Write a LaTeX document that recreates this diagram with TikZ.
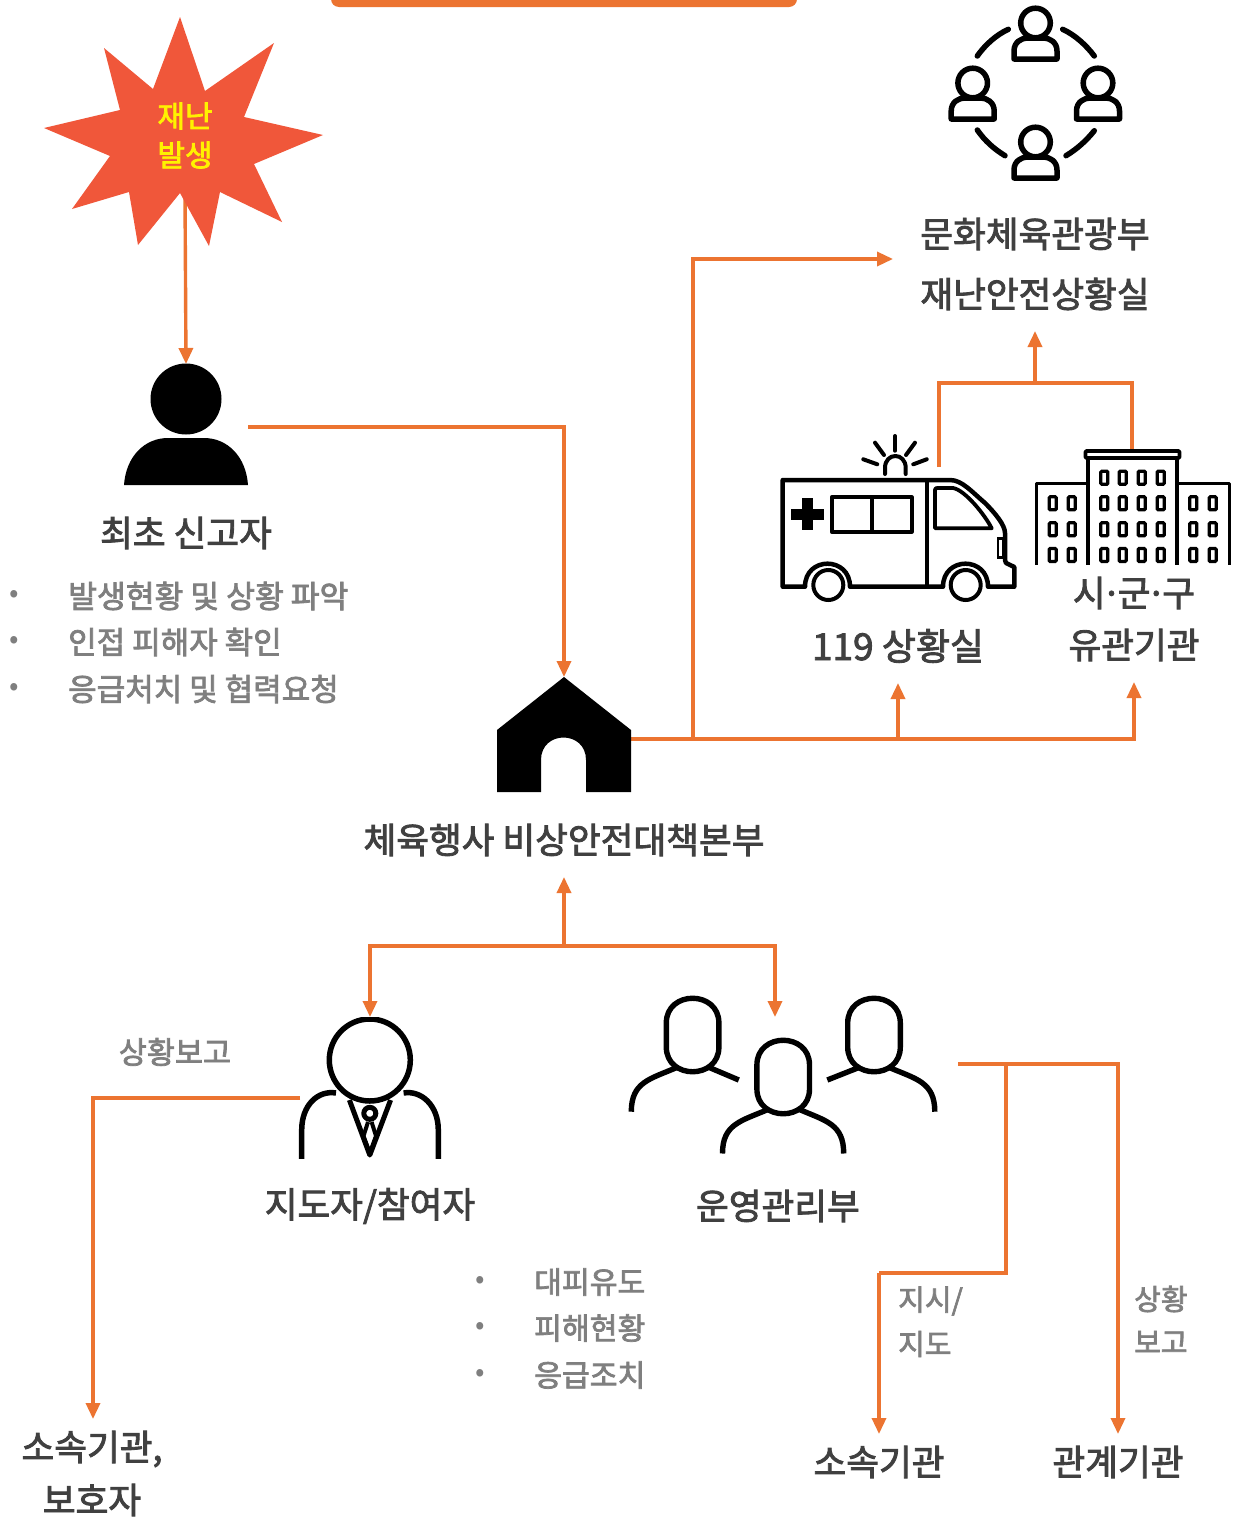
\documentclass[tikz,border=0pt]{standalone}
\usepackage{fontspec}
\setmainfont{Noto Sans CJK KR}
\newfontfamily\kr[FakeBold=2.4]{Noto Sans CJK KR}
\newfontfamily\krl{Noto Sans CJK KR}
\usetikzlibrary{arrows.meta}
\definecolor{acc}{HTML}{EC7431}
\definecolor{burst}{HTML}{F0573A}
\definecolor{headtxt}{HTML}{404040}
\definecolor{softtxt}{HTML}{7F7F7F}
\tikzset{
 wire/.style={draw=acc,line width=3.4pt},
 arw/.style={wire,-{Triangle[length=16pt,width=14pt]}},
 head/.style={text=headtxt,font=\kr\fontsize{35.6}{36}\selectfont,inner sep=0pt},
 soft/.style={text=softtxt,font=\kr\fontsize{30.5}{31}\selectfont,inner sep=0pt},
 softl/.style={soft,anchor=west},
 softs/.style={softl,font=\kr\fontsize{29}{30}\selectfont},
 dotb/.style={text=softtxt,font=\krl\fontsize{28}{28}\selectfont,inner sep=0pt},
 iconbox/.style={inner sep=0pt,outer sep=0pt,draw=none},
 ink/.style={draw=black,line width=5pt,line join=round,line cap=round,fill=none},
 inkb/.style={draw=black,line width=5pt,line join=round,fill=none},
 thin/.style={draw=black,line width=3.8pt,line join=round},
}
\begin{document}
\begin{tikzpicture}[x=1pt,y=-1pt]
\useasboundingbox (0,0) rectangle (1243,1518);
\fill[white] (0,0) rectangle (1243,1518);
% top bar
\fill[acc,rounded corners=8pt] (331,-20) rectangle (797,7);

% named anchors
\node[iconbox,minimum width=124pt,minimum height=126pt] (reporter) at (186,427) {};
\node[iconbox,minimum width=134pt,minimum height=124pt] (house) at (564,739) {};
\node[iconbox,minimum width=140pt,minimum height=162pt] (leader) at (370,1098) {};
\coordinate (burstOut) at (185,195);
\coordinate (ministryIn) at (893,259);
\coordinate (ministryIn2) at (1035,331);
\coordinate (amb) at (939,467);
\coordinate (city) at (1132,450);
\coordinate (ambIn) at (898,683);
\coordinate (cityIn) at (1134,682);
\coordinate (hqIn) at (564,877);
\coordinate (opsIn) at (775,1017);
\coordinate (opsOut) at (958,1064);
\coordinate (affil) at (93,1419);
\coordinate (sub) at (879,1434);
\coordinate (rel) at (1118,1434);
\coordinate (j1) at (693,739);
\coordinate (j2) at (898,739);
\coordinate (j3) at (1035,383);
\coordinate (j4) at (564,946);
\coordinate (j5) at (1006,1064);
\coordinate (j6) at (879,1273);

% connectors
\draw[arw] (burstOut) -- (reporter.north);
\draw[arw] (reporter.east) -| (house.north);
\draw[arw] (house.east) -| (cityIn);
\draw[arw] (j2) -- (ambIn);
\draw[arw] (j1) |- (ministryIn);
\draw[wire,line join=miter] (amb) |- (j3) -| (city);
\draw[arw] (j3) -- (ministryIn2);
\draw[arw] (j4) -- (hqIn);
\draw[arw] (j4) -| (leader.north);
\draw[arw] (j4) -| (opsIn);
\draw[arw] (leader.west) -| (affil);
\draw[arw] (opsOut) -| (rel);
\draw[wire] (j5) |- (j6);
\draw[arw] (j6) -- (sub);

% burst
\fill[burst] (180,17)--(205,91)--(274,43)--(244,117)--(323,135)--(254,164)--(282,222)--(220,192)--(209,246)--(180,193)--(138,245)--(129,192)--(72,209)--(110,156)--(44,128)--(120,110)--(104,48)--(153,89)--cycle;
\node[text=yellow,font=\kr\fontsize{30}{30}\selectfont,inner sep=0pt] (t1) at (185,116) {재난};
\node[text=yellow,font=\kr\fontsize{30}{30}\selectfont,inner sep=0pt] (t2) at (185,155) {발생};

% reporter icon
\fill (186,399) circle[radius=35.5];
\fill (124,485) .. controls (126,456) and (145,438) .. (168,438) -- (204,438) .. controls (227,438) and (246,456) .. (248,485) -- cycle;

% house icon
\fill[even odd rule] (497,730)--(564,677)--(631,730)--(631,792)--(586,792)--(586,760) .. controls (586,730) and (541,730) .. (541,760)--(541,792)--(497,792)--cycle;

% circle of people
\foreach \cx/\cy in {1035.5/23,972.7/83,1098/83,1035.5/142}{
 \begin{scope}[shift={(\cx,\cy)}]
  \draw[inkb,line width=5.5pt] (0,0) circle[radius=14.8];
  \draw[inkb,line width=5.5pt] (-21.5,36) -- (-21.5,28) .. controls (-21.5,19) and (-14,15) .. (-8,15) -- (8,15) .. controls (14,15) and (21.5,19) .. (21.5,28) -- (21.5,36) -- cycle;
 \end{scope}
}
\draw[ink,line width=5.5pt] (977.3,56) .. controls (985,45) and (996,35) .. (1008.3,29.3);
\draw[ink,line width=5.5pt] (1062.7,29.3) .. controls (1075,35) and (1086,45) .. (1094.3,56);
\draw[ink,line width=5.5pt] (977.3,130) .. controls (985,141) and (994,149) .. (1005,155.7);
\draw[ink,line width=5.5pt] (1094.3,130.7) .. controls (1086,141) and (1077,149) .. (1066,155.7);

% ambulance
\draw[inkb,line width=4.5pt] (782.7,480) -- (950,480) .. controls (962,480) and (972,492) .. (985,503) .. controls (995,513) and (1005,525) .. (1005,533) -- (1005,560) -- (1006,563) -- (1014.3,567) -- (1014.3,586.7) -- (988,586.7) .. controls (988,556) and (943,556) .. (943,586.7) -- (850,586.7) .. controls (850,556) and (805,556) .. (805,586.7) -- (782.7,586.7) -- cycle;
\draw[draw=black,line width=4pt] (828.3,585) circle[radius=15];
\draw[draw=black,line width=4pt] (965.7,585) circle[radius=15];
\draw[draw=black,line width=4pt] (926.7,480) -- (926.7,587);
\fill (801.5,498) rectangle (813,530);
\fill (790.5,508.5) rectangle (824,520);
\draw[thin] (831.7,497.3) rectangle (911.7,531.7);
\draw[thin] (871.7,497.3) -- (871.7,531.7);
\draw[thin] (935,490) .. controls (935,488) and (936,488) .. (938,488) -- (953,488) .. controls (965,490) and (985,515) .. (991.7,528.3) -- (935,528.3) -- cycle;
\draw[draw=black,line width=2.6pt] (998,538.5) rectangle (1003.5,557.5);
\draw[ink,line width=4pt] (885,474) -- (885,468) .. controls (885,452) and (905.7,452) .. (905.7,468) -- (905.7,474);
\draw[ink,line width=4pt] (895,436) -- (895,450.7);
\draw[ink,line width=4pt] (875,442.7) -- (884,455);
\draw[ink,line width=4pt] (915,442.7) -- (906,455);
\draw[ink,line width=4pt] (863.3,459.3) -- (877.3,464.3);
\draw[ink,line width=4pt] (926.7,459.3) -- (913.3,464.3);

% city hall building
\begin{scope}
\clip (1030,440) rectangle (1240,564);
\draw[thin] (1088.3,700) -- (1088.3,458) -- (1176.7,458) -- (1176.7,700);
\draw[thin,line width=3pt] (1088.3,483.3) -- (1036,483.3) -- (1036,700);
\draw[thin,line width=3pt] (1176.7,483.3) -- (1229.3,483.3) -- (1229.3,700);
\draw[thin,fill=white,rounded corners=1pt] (1085.5,451) rectangle (1179.5,458);
\foreach \wx in {1104.3,1122.7,1141.7,1160.7}
 \foreach \wy in {477.7,503.3,529.3,555}
  \draw[draw=black,line width=3.2pt,rounded corners=1pt] (\wx-3.5,\wy-6.5) rectangle (\wx+3.5,\wy+6.5);
\foreach \wx in {1052.7,1071.7,1193.3,1212.7}
 \foreach \wy in {503.3,529.3,555}
  \draw[draw=black,line width=3.2pt,rounded corners=1pt] (\wx-3.5,\wy-6.5) rectangle (\wx+3.5,\wy+6.5);
\end{scope}

% leader
\begin{scope}
\clip (290,1017) rectangle (450,1158);
\draw[inkb,line width=5.5pt] (369.8,1060) ellipse[x radius=40.5,y radius=41];
\draw[inkb,line width=5.5pt] (336,1093) .. controls (318,1090) and (301.7,1105) .. (301.7,1130) -- (301.7,1170);
\draw[inkb,line width=5.5pt] (403.6,1093) .. controls (421,1090) and (438.3,1105) .. (438.3,1130) -- (438.3,1170);
\draw[inkb,line width=5pt] (349.4,1100) -- (369.8,1155) -- (390.6,1100);
\draw[inkb,line width=5pt] (369.8,1113.3) circle[radius=6];
\draw[inkb,line width=4pt] (368,1122) -- (363.5,1136) -- (369.8,1153) -- (376,1136) -- (371.6,1122);
\end{scope}

% operations group
\foreach \hx/\hy in {692.6/1035,783.2/1077,874/1035}{
 \draw[inkb,line width=5.4pt] (\hx-26.3,\hy-12) .. controls (\hx-26.3,\hy-45) and (\hx+26.3,\hy-45) .. (\hx+26.3,\hy-12) -- (\hx+26.3,\hy+12) .. controls (\hx+26.3,\hy+45) and (\hx-26.3,\hy+45) .. (\hx-26.3,\hy+12) -- cycle;
}
\draw[draw=black,line width=5.4pt] (676.8,1067.5) .. controls (650,1079) and (631.3,1082) .. (631.3,1111.7);
\draw[draw=black,line width=5.4pt] (709.3,1067.5) -- (738.8,1080);
\draw[draw=black,line width=5.4pt] (827.3,1080) -- (858.9,1067.5);
\draw[draw=black,line width=5.4pt] (889.3,1067.5) .. controls (916,1079) and (934.8,1082) .. (934.8,1111.7);
\draw[draw=black,line width=5.4pt] (767.9,1109.5) .. controls (741,1121) and (722.5,1124) .. (722.5,1153.5);
\draw[draw=black,line width=5.4pt] (799.5,1109.5) .. controls (826,1121) and (843.7,1124) .. (843.7,1153.5);

% labels
\node[head] (l1) at (1035,234) {문화체육관광부};
\node[head] (l2) at (1035,294) {재난안전상황실};
\node[head] (l3) at (186,533) {최초 신고자};
\node[head,font=\kr\fontsize{37}{37}\selectfont] (l4) at (898,646) {119 상황실};
\node[head] (l5) at (1134,593) {시\kern-4pt·\kern-4pt군\kern-4pt·\kern-4pt구};
\node[head] (l6) at (1134,645) {유관기관};
\node[head] (l7) at (564,840) {체육행사 비상안전대책본부};
\node[head] (l8) at (370,1206) {지도자/참여자};
\node[head] (l9) at (778,1206) {운영관리부};
\node[head] (l10) at (92,1449) {소속기관,};
\node[head] (l11) at (92,1500) {보호자};
\node[head] (l12) at (879,1462) {소속기관};
\node[head] (l13) at (1118,1462) {관계기관};

\node[dotb] (b1) at (14,596) {•};
\node[dotb] (b2) at (14,642) {•};
\node[dotb] (b3) at (14,689) {•};
\node[softl,font=\kr\fontsize{31.3}{32}\selectfont] (s1) at (68,596) {발생현황 및 상황 파악};
\node[softl,font=\kr\fontsize{31}{32}\selectfont] (s2) at (68,642) {인접 피해자 확인};
\node[softl,font=\kr\fontsize{31}{32}\selectfont] (s3) at (68,689) {응급처치 및 협력요청};
\node[dotb] (b4) at (480,1282) {•};
\node[dotb] (b5) at (480,1328) {•};
\node[dotb] (b6) at (480,1375) {•};
\node[softl,font=\kr\fontsize{30.2}{30}\selectfont] (s4) at (534,1282) {대피유도};
\node[softl,font=\kr\fontsize{30.2}{30}\selectfont] (s5) at (534,1328) {피해현황};
\node[softl,font=\kr\fontsize{30.2}{30}\selectfont] (s6) at (534,1375) {응급조치};
\node[soft] (s7) at (175,1052) {상황보고};
\node[softs] (s8) at (898,1301) {지시/};
\node[softs] (s9) at (898,1344) {지도};
\node[softs] (s10) at (1134,1299) {상황};
\node[softs] (s11) at (1134,1342) {보고};
\end{tikzpicture}
\end{document}
